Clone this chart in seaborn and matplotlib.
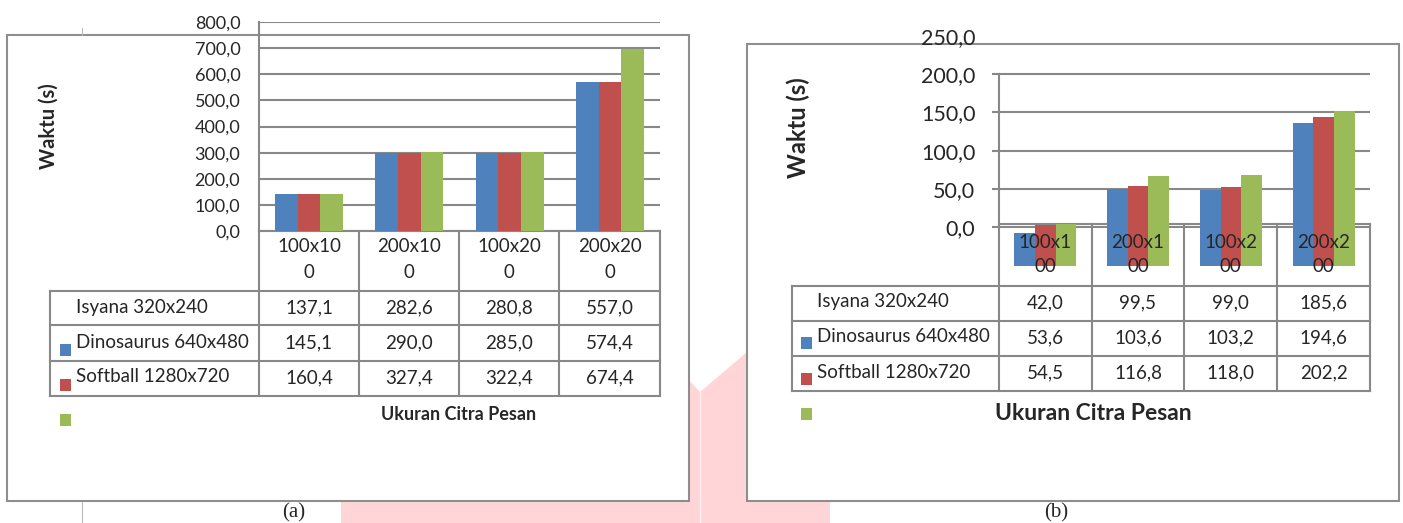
import numpy as np
import pandas as pd
import seaborn as sns
import matplotlib.pyplot as plt
from matplotlib.patches import Rectangle, Polygon

# kategori ukuran citra pesan dan seri citra cover
categories = ["100x100", "200x100", "100x200", "200x200"]
series = ["Isyana 320x240", "Dinosaurus 640x480", "Softball 1280x720"]
colors = ["#4F81BD", "#C0504D", "#9BBB59"]

# (a) nilai tabel
a_isyana = [137.1, 282.6, 280.8, 557.0]
a_dino = [145.1, 290.0, 285.0, 574.4]
a_soft = [160.4, 327.4, 322.4, 674.4]
# (a) tinggi batang seperti yang tergambar (tidak sama dengan tabel)
a_bar_isyana = [142, 298, 298, 571]
a_bar_dino = [142, 298, 298, 571]
a_bar_soft = [142, 302, 302, 696]

# (b) nilai tabel, batang digambar dari nilai ini
b_isyana = [42.0, 99.5, 99.0, 185.6]
b_dino = [53.6, 103.6, 103.2, 194.6]
b_soft = [54.5, 116.8, 118.0, 202.2]
b_base = -50  # batang (b) turun di bawah garis 0

a_ticks = list(range(0, 801, 100))
b_ticks = list(range(0, 251, 50))
b_grid = list(range(0, 201, 50))

W, H = 1403, 523
GRAY = "#888888"

sns.set_style("white")
plt.rcParams["font.family"] = ["Lato", "DejaVu Sans"]


def box(x0, y0, x1, y1):
    return [x0 / W, 1 - y1 / H, (x1 - x0) / W, (y1 - y0) / H]


def fmt(v):
    return f"{v:.1f}".replace(".", ",")


def bars(ax, vals, width, **kw):
    df = pd.DataFrame({
        "kategori": categories * 3,
        "seri": np.repeat(series, len(categories)),
        "waktu": np.concatenate(vals),
    })
    sns.barplot(data=df, x="kategori", y="waktu", hue="seri", order=categories,
                hue_order=series, palette=colors, saturation=1, width=width,
                gap=0, legend=False, errorbar=None, linewidth=0, ax=ax, **kw)
    ax.set_xlim(-0.5, len(categories) - 0.5)
    ax.set_xlabel("")
    ax.set_ylabel("")
    ax.set_xticks([])
    ax.patch.set_visible(False)
    for s in ["top", "right", "bottom"]:
        ax.spines[s].set_visible(False)
    ax.spines["left"].set_color(GRAY)
    ax.spines["left"].set_linewidth(1.5)


fig = plt.figure(figsize=(W / 100, H / 100), dpi=100)

# latar: watermark, bingkai, garis tabel
bg = fig.add_axes([0, 0, 1, 1], zorder=1)
bg.set_xlim(0, W)
bg.set_ylim(H, 0)
bg.axis("off")
bg.add_patch(Polygon([(341, 523), (341, 385), (689, 380), (700, 392), (747, 352),
                      (830, 300), (830, 523)], closed=True, fc="#FFD5D8", ec="none"))
bg.plot([700, 700], [392, 523], color="#FFEFF0", lw=1)
bg.plot([82, 82], [28, 35], color="#BBBBBB", lw=0.8)
bg.plot([82, 82], [502, 523], color="#BBBBBB", lw=0.8)
bg.add_patch(Rectangle((7, 35), 682, 466, fc="white", ec="#8E8E8E", lw=1.5))
bg.add_patch(Rectangle((747, 44), 652, 457, fc="white", ec="#8E8E8E", lw=1.5))

ov = fig.add_axes([0, 0, 1, 1], zorder=3)
ov.set_xlim(0, W)
ov.set_ylim(H, 0)
ov.axis("off")


def table(cols, head, rows, left, split, head_y, vals, lab_x, lab_y, val_y, sq_x, sq_y, sq_h):
    kw = dict(color=GRAY, lw=1.5, solid_capstyle="projecting")
    bg.plot([cols[0], cols[-1]], [head[0], head[0]], **kw)
    for x in cols:
        bg.plot([x, x], [head[0], rows[-1]], **kw)
    bg.plot([left, left], [rows[0], rows[-1]], **kw)
    for y in rows:
        bg.plot([left, cols[-1]], [y, y], **kw)
    for i, c in enumerate(categories):
        cx = (cols[i] + cols[i + 1]) / 2
        ov.text(cx, head_y[0], c[:split], ha="center", va="center", fontsize=13.5)
        ov.text(cx, head_y[1], c[split:], ha="center", va="center", fontsize=13.5)
        for r, v in enumerate(vals):
            ov.text(cx, val_y[r], fmt(v[i]), ha="center", va="center", fontsize=13.5)
    for r, s in enumerate(series):
        ov.text(lab_x, lab_y[r], s, ha="left", va="center", fontsize=13.5)
    for k, col in enumerate(colors):
        ov.add_patch(Rectangle((sq_x, sq_y[k]), 11, sq_h, fc=col, ec="none"))


# ---------------- (a) ----------------
ax_a = fig.add_axes(box(259, 22, 660, 231), zorder=2)
bars(ax_a, [a_bar_isyana, a_bar_dino, a_bar_soft], 0.68)
ax_a.set_ylim(0, 800)
ax_a.set_yticks(a_ticks)
ax_a.set_yticklabels([fmt(t) for t in a_ticks])
ax_a.tick_params(axis="y", length=0, pad=13.5, labelsize=13)
ax_a.yaxis.grid(True, color=GRAY, lw=1.5)
ax_a.set_axisbelow(True)

table([259, 359, 459, 559, 660], (231, 291), [291, 325, 361, 396], 50, 6, (247, 273),
      [a_isyana, a_dino, a_soft], 76, [308, 342, 377], [308, 343, 378],
      60, [344, 379, 414], 12)
ov.text(459, 414, "Ukuran Citra Pesan", ha="center", va="center", fontsize=13, weight="bold")
ov.text(49, 126, "Waktu (s)", ha="center", va="center", rotation=90, fontsize=14.5, weight="bold")
ov.text(294, 513, "(a)", ha="center", va="center", fontsize=15, family=["Liberation Serif", "DejaVu Serif"])

# ---------------- (b) ----------------
ax_b = fig.add_axes(box(999, 35.8, 1370, 265.6), zorder=2)
bars(ax_b, [b_isyana, b_dino, b_soft], 0.67, bottom=b_base)
ax_b.set_ylim(-50, 250)
ax_b.set_yticks(b_ticks)
ax_b.set_yticklabels([fmt(t) for t in b_ticks])
ax_b.tick_params(axis="y", length=0, pad=17, labelsize=15.5)
ax_b.hlines(b_grid, -7 / 371, 1, transform=ax_b.get_yaxis_transform(),
            color=GRAY, lw=1.5, zorder=0.5, clip_on=False)
ax_b.spines["left"].set_bounds(0, 200)

table([999, 1092, 1184, 1277, 1370], (224, 286), [286, 321, 356, 391], 792, 5, (242, 266),
      [b_isyana, b_dino, b_soft], 817, [302, 337, 373], [303, 338, 373],
      801, [337, 373, 408], 11.5)
ov.text(1093, 413, "Ukuran Citra Pesan", ha="center", va="center", fontsize=16.5, weight="bold")
ov.text(798, 128, "Waktu (s)", ha="center", va="center", rotation=90, fontsize=17, weight="bold")
ov.text(1056, 513, "(b)", ha="center", va="center", fontsize=15, family=["Liberation Serif", "DejaVu Serif"])

fig.savefig("out.png", dpi=100)
